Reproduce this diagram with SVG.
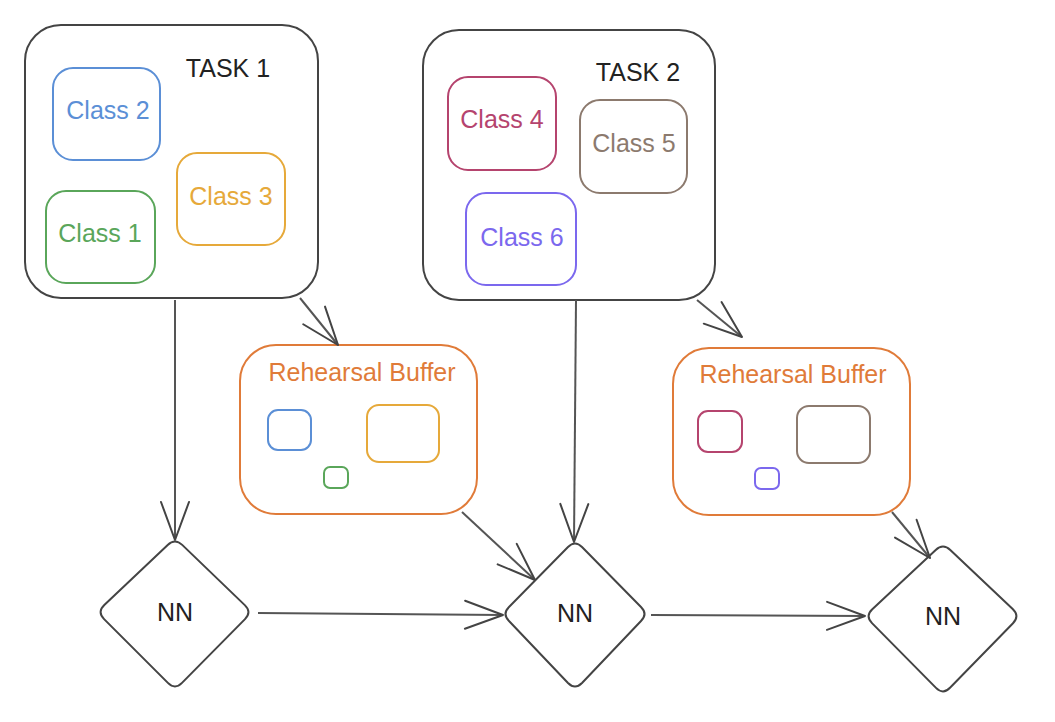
<svg xmlns="http://www.w3.org/2000/svg" width="1055" height="722" viewBox="0 0 1055 722">
<defs>
<marker id="arr" markerUnits="userSpaceOnUse" markerWidth="42" markerHeight="34" refX="38" refY="15" orient="auto" overflow="visible">
<path d="M0,1 L38,15 L0,29" fill="none" stroke="#444" stroke-width="2" stroke-linecap="round" stroke-linejoin="round"/>
</marker>
</defs>
<style>
text{font-family:"Liberation Sans",Arial,sans-serif;text-anchor:middle;dominant-baseline:central}
.task{fill:#fff;stroke:#444;stroke-width:2}
.cls{fill:#fff;stroke-width:2}
.lbl{font-size:25px}
.edge{fill:none;stroke:#555;stroke-width:2;marker-end:url(#arr)}
.nn{fill:#fff;stroke:#444;stroke-width:2;stroke-linejoin:round}
.nnt{font-size:25px;fill:#222}
.rb{fill:#fff;stroke:#e07b39;stroke-width:2}
</style>
<rect width="1055" height="722" fill="#fff"/>
<g id="task1">
<rect class="task" x="25" y="25" width="293" height="273" rx="36"/>
<text x="228" y="68" class="lbl" fill="#222">TASK 1</text>
</g>
<g id="class2"><rect class="cls" x="53" y="68" width="107" height="92" rx="20" stroke="#5b8fd6"/><text x="108" y="110" class="lbl" fill="#5b8fd6">Class 2</text></g>
<g id="class3"><rect class="cls" x="177" y="153" width="108" height="92" rx="20" stroke="#e6a93a"/><text x="231" y="196" class="lbl" fill="#e6a93a">Class 3</text></g>
<g id="class1"><rect class="cls" x="46" y="191" width="109" height="92" rx="20" stroke="#5aa65a"/><text x="100" y="233" class="lbl" fill="#5aa65a">Class 1</text></g>
<g id="task2">
<rect class="task" x="423" y="30" width="292" height="270" rx="36"/>
<text x="638" y="72" class="lbl" fill="#222">TASK 2</text>
</g>
<g id="class4"><rect class="cls" x="448" y="77" width="108" height="93" rx="20" stroke="#b5446e"/><text x="502" y="119" class="lbl" fill="#b5446e">Class 4</text></g>
<g id="class5"><rect class="cls" x="580" y="100" width="107" height="93" rx="20" stroke="#8c7a6e"/><text x="634" y="143" class="lbl" fill="#8c7a6e">Class 5</text></g>
<g id="class6"><rect class="cls" x="466" y="193" width="110" height="92" rx="20" stroke="#7b68ee"/><text x="522" y="237" class="lbl" fill="#7b68ee">Class 6</text></g>
<g id="rb1">
<rect class="rb" x="240" y="345" width="237" height="169" rx="36"/>
<text x="362" y="372" class="lbl" fill="#e07b39">Rehearsal Buffer</text>
<rect class="cls" x="268" y="410" width="43" height="40" rx="10" stroke="#5b8fd6"/>
<rect class="cls" x="367" y="405" width="72" height="57" rx="12" stroke="#e6a93a"/>
<rect class="cls" x="324" y="467" width="24" height="21" rx="6" stroke="#5aa65a"/>
</g>
<g id="rb2">
<rect class="rb" x="673" y="348" width="237" height="167" rx="36"/>
<text x="793" y="374" class="lbl" fill="#e07b39">Rehearsal Buffer</text>
<rect class="cls" x="698" y="411" width="44" height="41" rx="10" stroke="#b5446e"/>
<rect class="cls" x="797" y="406" width="73" height="57" rx="12" stroke="#8c7a6e"/>
<rect class="cls" x="755" y="468" width="24" height="21" rx="6" stroke="#7b68ee"/>
</g>
<g id="nn1"><path class="nn" d="M182.2,544.9 L244.8,605.1 Q252,612 245,619.1 L182,682.9 Q175,690 167.9,682.9 L104.1,619.1 Q97,612 104.3,605.1 L167.7,544.9 Q175,538 182.2,544.9 Z"/><text x="175" y="612" class="nnt">NN</text></g>
<g id="nn2"><path class="nn" d="M582,547 L641,607 Q648,614 641,621 L582,683 Q575,690 568,683 L509,621 Q502,614 509,607 L568,547 Q575,540 582,547 Z"/><text x="575" y="613" class="nnt">NN</text></g>
<g id="nn3"><path class="nn" d="M950.3,549.9 L1012.7,609.1 Q1020,616 1013,623.2 L950,687.8 Q943,695 936,687.9 L872,623.1 Q865,616 872.3,609.2 L935.7,549.9 Q943,543 950.3,549.9 Z"/><text x="943" y="616" class="nnt">NN</text></g>
<g id="connectors">
<path class="edge" d="M175,300 L175,540"/>
<path class="edge" d="M300,298 L338,345"/>
<path class="edge" d="M462,512 L535,580"/>
<path class="edge" d="M258,613 L503,615"/>
<path class="edge" d="M576,300 L574,542"/>
<path class="edge" d="M697,300 L742,337"/>
<path class="edge" d="M892,512 L930,558"/>
<path class="edge" d="M651,615 L865,616"/>
</g>
</svg>
